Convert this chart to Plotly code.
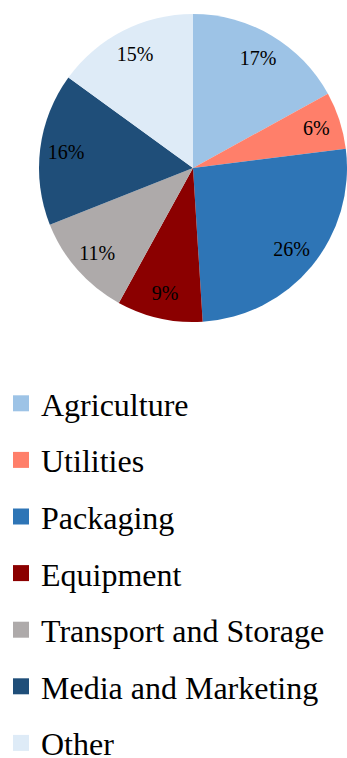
import plotly.graph_objects as go

categories = ["Agriculture", "Utilities", "Packaging", "Equipment",
              "Transport and Storage", "Media and Marketing", "Other"]
shares = [17, 6, 26, 9, 11, 16, 15]
colors = ["#9DC3E6", "#FF7F6A", "#2E75B6", "#8B0000",
          "#AEAAAA", "#1F4E79", "#DEEBF7"]

W, H = 347, 758
FONT = "Liberation Serif, Times New Roman, serif"
pie_domain = dict(x=[39 / W, 1.0], y=[1 - 322 / H, 1 - 14 / H])

fig = go.Figure()
# filled pie (no text)
fig.add_trace(go.Pie(
    labels=categories, values=shares, sort=False, direction="clockwise",
    rotation=0, marker=dict(colors=colors, line=dict(width=0)),
    textinfo="none", textposition="none", showlegend=False,
    hoverinfo="label+percent", domain=pie_domain,
))
# transparent ring carrying the percentage labels near the rim
fig.add_trace(go.Pie(
    labels=categories, values=shares, sort=False, direction="clockwise",
    rotation=0, hole=0.66,
    marker=dict(colors=["rgba(0,0,0,0)"] * len(categories), line=dict(width=0)),
    texttemplate="%{percent:.0%}", textposition="inside",
    insidetextorientation="horizontal",
    textfont=dict(family=FONT, size=20, color="#000000"),
    showlegend=False, hoverinfo="skip",
    domain=pie_domain,
))

for c, col in zip(categories, colors):
    fig.add_trace(go.Scatter(
        x=[None], y=[None], mode="markers", name=c, legendgroup=c,
        marker=dict(symbol="square", size=16, color=col, line=dict(width=0)),
    ))

fig.update_layout(
    width=W, height=H,
    margin=dict(l=0, r=0, t=0, b=0, autoexpand=False),
    paper_bgcolor="white", plot_bgcolor="white",
    xaxis=dict(visible=False), yaxis=dict(visible=False),
    legend=dict(
        x=1 / W, y=1 - 376 / H, xanchor="left", yanchor="top",
        font=dict(family=FONT, size=32, color="#000000"),
        tracegroupgap=12, itemwidth=30, bgcolor="rgba(0,0,0,0)",
        itemclick=False, itemdoubleclick=False,
    ),
    showlegend=True,
)

fig.write_html("out.html")
